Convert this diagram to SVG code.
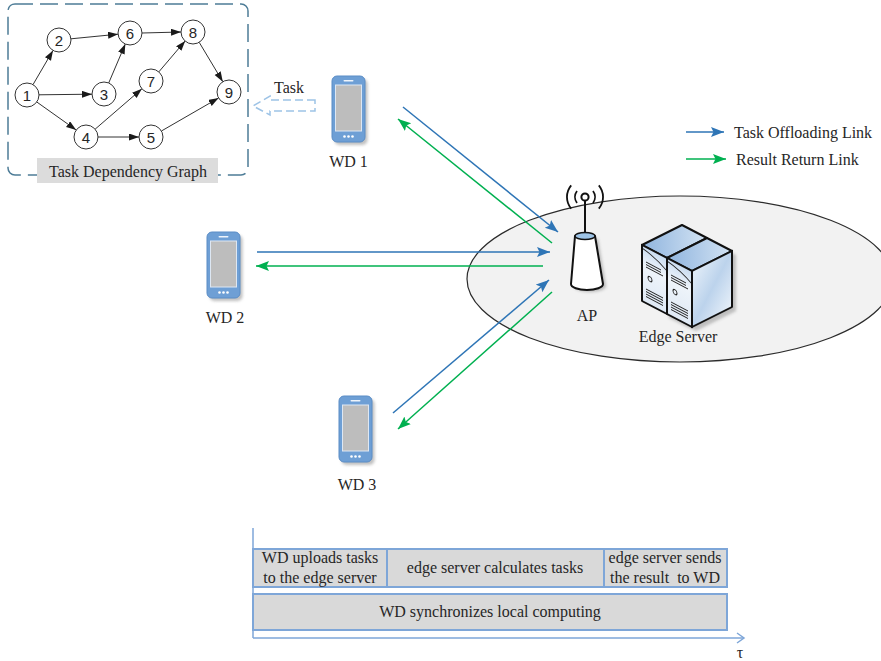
<svg xmlns="http://www.w3.org/2000/svg" xmlns:xlink="http://www.w3.org/1999/xlink" width="881" height="661" viewBox="0 0 881 661">
  <style>
    .serif { font-family: "Liberation Serif", "Times New Roman", serif; font-size: 16px; fill: #262626; }
    .num { font-family: "Liberation Sans", Arial, sans-serif; font-size: 15px; fill: #262626; text-anchor: middle; }
    .mid { text-anchor: middle; }
    .node circle { fill: #ffffff; stroke: #333333; stroke-width: 1; }
    .dag line { stroke: #333333; stroke-width: 1; marker-end: url(#headBlack); }
    .up { stroke: #2e75b6; stroke-width: 1.5; fill: none; marker-end: url(#headBlue); }
    .down { stroke: #00b050; stroke-width: 1.5; fill: none; marker-end: url(#headGreen); }
    .slot { fill: #d9d9d9; stroke: #7ea6d8; stroke-width: 2; }
    .srv { stroke: #111111; stroke-width: 2; stroke-linejoin: round; }
    .vent { stroke: #222222; stroke-width: 1; fill: none; }
  </style>
  <defs>
    <marker id="headBlack" markerUnits="userSpaceOnUse" markerWidth="11" markerHeight="8" refX="10" refY="3.5" orient="auto">
      <path d="M0,0 L10,3.5 L0,7 z" fill="#1a1a1a"/>
    </marker>
    <marker id="headBlue" markerUnits="userSpaceOnUse" markerWidth="14" markerHeight="11" refX="13" refY="5" orient="auto">
      <path d="M0,0 L13,5 L0,10 L2.5,5 z" fill="#2e75b6"/>
    </marker>
    <marker id="headGreen" markerUnits="userSpaceOnUse" markerWidth="14" markerHeight="11" refX="13" refY="5" orient="auto">
      <path d="M0,0 L13,5 L0,10 L2.5,5 z" fill="#00b050"/>
    </marker>
    <marker id="axisHead" markerUnits="userSpaceOnUse" markerWidth="10" markerHeight="12" refX="8" refY="6" orient="auto">
      <path d="M1,1 L8,6 L1,11" fill="none" stroke="#7ea6d8" stroke-width="1.5"/>
    </marker>
    <filter id="soft" x="-30%" y="-30%" width="160%" height="160%">
      <feGaussianBlur stdDeviation="1.6"/>
    </filter>
    <linearGradient id="sideGrad" x1="0" y1="0" x2="1" y2="1">
      <stop offset="0" stop-color="#e4eef8"/>
      <stop offset="0.5" stop-color="#bcd3ec"/>
      <stop offset="1" stop-color="#e8f0f9"/>
    </linearGradient>
    <linearGradient id="topGrad" x1="0" y1="0" x2="1" y2="0">
      <stop offset="0" stop-color="#8fb4de"/>
      <stop offset="1" stop-color="#d3e3f3"/>
    </linearGradient>
    <linearGradient id="frontGrad" x1="0" y1="0" x2="0" y2="1">
      <stop offset="0" stop-color="#c9dcf0"/>
      <stop offset="0.35" stop-color="#eef4fa"/>
      <stop offset="1" stop-color="#dfe9f5"/>
    </linearGradient>

    <!-- handheld device glyph, 33 x 66 -->
    <g id="phone">
      <rect x="2.5" y="3" width="33" height="66" rx="5" fill="#8c8c8c" opacity="0.55" filter="url(#soft)"/>
      <rect x="0" y="0" width="33" height="66" rx="5" fill="#6e9fd5" stroke="#5b8dc6" stroke-width="1"/>
      <rect x="3.5" y="9" width="26" height="46" fill="#bdbdbd" stroke="#dde7f3" stroke-width="1"/>
      <rect x="11.5" y="4" width="10" height="1.6" rx="0.8" fill="#eef4fb"/>
      <circle cx="12.5" cy="60.5" r="1.3" fill="#ffffff"/>
      <circle cx="16.5" cy="60.5" r="1.3" fill="#ffffff"/>
      <circle cx="20.5" cy="60.5" r="1.3" fill="#ffffff"/>
    </g>

    <!-- front panel of a tower server in face-local coordinates (25 x 56) -->
    <g id="panel">
      <rect x="0" y="0" width="25" height="56" fill="url(#frontGrad)"/>
      <path d="M0,3 Q13,5 25,13" class="vent" stroke="#8a6f4a" stroke-width="0.8"/>
      <path d="M4,15 H19 M4,17.5 H19 M4,20 H21" class="vent"/>
      <ellipse cx="8" cy="30" rx="2" ry="2.4" class="vent"/>
      <path d="M4,42 H21 M4,44.5 H21 M4,47 H21 M4,49.5 H21" class="vent"/>
    </g>
  </defs>

  <rect width="881" height="661" fill="#ffffff"/>

  <!-- task dependency graph -->
  <g id="dag-frame">
    <rect x="8" y="4" width="240" height="171" rx="7" fill="none" stroke="#4d7c97" stroke-width="1.5" stroke-dasharray="18 7"/>
    <rect x="37" y="158" width="181" height="25" fill="#dcdcdc"/>
    <text class="serif mid" x="128" y="177">Task Dependency Graph</text>
  </g>
  <g id="dag-edges" class="dag">
    <line x1="33" y1="84.6" x2="53" y2="50.4"/>
    <line x1="39" y1="94.8" x2="92" y2="94.2"/>
    <line x1="36.8" y1="102" x2="76.2" y2="130"/>
    <line x1="71" y1="38.8" x2="118" y2="34.2"/>
    <line x1="108.7" y1="83" x2="125.3" y2="44"/>
    <line x1="142" y1="33" x2="181" y2="32"/>
    <line x1="158.8" y1="71.9" x2="185.2" y2="40.9"/>
    <line x1="199.2" y1="42.3" x2="222.8" y2="81.7"/>
    <line x1="95.1" y1="129.2" x2="141.9" y2="88.8"/>
    <line x1="98" y1="137" x2="139" y2="137"/>
    <line x1="161.4" y1="131" x2="218.6" y2="98"/>
  </g>
  <g id="task1" class="node"><circle cx="27" cy="95" r="12"/><text class="num" x="27" y="100.5">1</text></g>
  <g id="task2" class="node"><circle cx="59" cy="40" r="12"/><text class="num" x="59" y="45.5">2</text></g>
  <g id="task3" class="node"><circle cx="104" cy="94" r="12"/><text class="num" x="104" y="99.5">3</text></g>
  <g id="task4" class="node"><circle cx="86" cy="137" r="12"/><text class="num" x="86" y="142.5">4</text></g>
  <g id="task5" class="node"><circle cx="151" cy="137" r="12"/><text class="num" x="151" y="142.5">5</text></g>
  <g id="task6" class="node"><circle cx="130" cy="33" r="12"/><text class="num" x="130" y="38.5">6</text></g>
  <g id="task7" class="node"><circle cx="151" cy="81" r="12"/><text class="num" x="151" y="86.5">7</text></g>
  <g id="task8" class="node"><circle cx="193" cy="32" r="12"/><text class="num" x="193" y="37.5">8</text></g>
  <g id="task9" class="node"><circle cx="229" cy="92" r="12"/><text class="num" x="229" y="97.5">9</text></g>

  <!-- edge cell -->
  <g id="edge-cell">
    <ellipse cx="680" cy="279" rx="213" ry="83" fill="#f2f2f2" stroke="#2b2b2b" stroke-width="1.2"/>
  </g>

  <!-- wireless devices -->
  <g id="wd1">
    <use href="#phone" xlink:href="#phone" x="332" y="76"/>
    <text class="serif mid" x="348.5" y="167">WD 1</text>
  </g>
  <g id="wd2">
    <use href="#phone" xlink:href="#phone" x="207" y="232"/>
    <text class="serif mid" x="225" y="323">WD 2</text>
  </g>
  <g id="wd3">
    <use href="#phone" xlink:href="#phone" x="339" y="396"/>
    <text class="serif mid" x="357" y="490">WD 3</text>
  </g>

  <!-- access point -->
  <g id="ap">
    <path d="M578,239 L574,286 A16,6 0 0 0 606,286 L598,239 Z" fill="#7f7f7f" opacity="0.5" filter="url(#soft)"/>
    <line x1="585" y1="236" x2="585" y2="201" stroke="#111" stroke-width="2"/>
    <circle cx="585" cy="197" r="3.6" fill="#ffffff" stroke="#111" stroke-width="2"/>
    <path d="M577.0,191.0 A10,10 0 0 0 577.0,203.0 M593.0,191.0 A10,10 0 0 1 593.0,203.0" fill="none" stroke="#111" stroke-width="1.8"/>
    <path d="M571.2,185.4 A18,18 0 0 0 571.2,208.6 M598.8,185.4 A18,18 0 0 1 598.8,208.6" fill="none" stroke="#111" stroke-width="1.8"/>
    <path d="M575,236 L571,284 A16,6 0 0 0 603,284 L595,236 Z" fill="#ffffff" stroke="#111" stroke-width="2" stroke-linejoin="round"/>
    <ellipse cx="585" cy="236" rx="10" ry="3.5" fill="#9dc3e6" stroke="#111" stroke-width="1.5"/>
    <text class="serif mid" x="587" y="321">AP</text>
  </g>

  <!-- edge server -->
  <g id="edge-server">
    <path d="M669,262 L709,242 L736,255 L736,311 L696,331 L669,318 Z" fill="#7f7f7f" opacity="0.45" filter="url(#soft)"/>
    <!-- rear unit -->
    <path d="M642,245 L682,225 L707,238 L667,258 Z" fill="url(#topGrad)" class="srv"/>
    <g transform="matrix(1,0.52,0,1,642,245)">
      <use href="#panel" xlink:href="#panel"/>
      <rect x="0" y="0" width="25" height="56" fill="none" class="srv"/>
    </g>
    <!-- front unit -->
    <path d="M667,258 L707,238 L732,251 L692,271 Z" fill="url(#topGrad)" class="srv"/>
    <g transform="matrix(1,-0.5,0,1,692,271)">
      <rect x="0" y="0" width="40" height="56" fill="url(#sideGrad)" class="srv"/>
    </g>
    <g transform="matrix(1,0.52,0,1,667,258)">
      <use href="#panel" xlink:href="#panel"/>
      <rect x="0" y="0" width="25" height="56" fill="none" class="srv"/>
    </g>
    <text class="serif mid" x="678" y="342">Edge Server</text>
  </g>

  <!-- task handed to the device -->
  <g id="task-hint">
    <path d="M315,100 H270 V96 L253,106 L270,115 V111 H315 Z" fill="none" stroke="#9dc3e6" stroke-width="1.5" stroke-dasharray="8 4"/>
    <text class="serif mid" x="289" y="93">Task</text>
  </g>

  <!-- offloading and result links -->
  <g id="links">
    <line class="up" x1="403" y1="107" x2="558" y2="232"/>
    <line class="down" x1="552" y1="243" x2="398" y2="119"/>
    <line class="up" x1="257" y1="252" x2="550" y2="252"/>
    <line class="down" x1="543" y1="266" x2="256" y2="266"/>
    <line class="up" x1="393" y1="413" x2="549" y2="280"/>
    <line class="down" x1="552" y1="292" x2="398" y2="429"/>
  </g>

  <!-- legend -->
  <g id="legend">
    <line class="up" x1="686" y1="132" x2="724" y2="132"/>
    <text class="serif" x="734" y="138">Task Offloading Link</text>
    <line class="down" x1="686" y1="159" x2="726" y2="159"/>
    <text class="serif" x="736" y="165">Result Return Link</text>
  </g>

  <!-- timing of one frame -->
  <g id="timeline">
    <line x1="253" y1="528" x2="253" y2="638" stroke="#7ea6d8" stroke-width="1.5"/>
    <line x1="253" y1="638" x2="744" y2="638" stroke="#7ea6d8" stroke-width="1.5" marker-end="url(#axisHead)"/>
    <text class="serif mid" x="740" y="658">τ</text>
    <g id="phase-upload">
      <rect class="slot" x="253" y="549" width="134" height="38"/>
      <text class="serif mid" x="320" y="563">WD uploads tasks</text>
      <text class="serif mid" x="320" y="583">to the edge server</text>
    </g>
    <g id="phase-compute">
      <rect class="slot" x="387" y="549" width="217" height="38"/>
      <text class="serif mid" x="495" y="573">edge server calculates tasks</text>
    </g>
    <g id="phase-return">
      <rect class="slot" x="604" y="549" width="123" height="38"/>
      <text class="serif mid" x="665" y="563">edge server sends</text>
      <text class="serif mid" x="665" y="583" xml:space="preserve">the result  to WD</text>
    </g>
    <g id="phase-local">
      <rect class="slot" x="253" y="594" width="474" height="36"/>
      <text class="serif mid" x="490" y="617">WD synchronizes local computing</text>
    </g>
  </g>
</svg>
